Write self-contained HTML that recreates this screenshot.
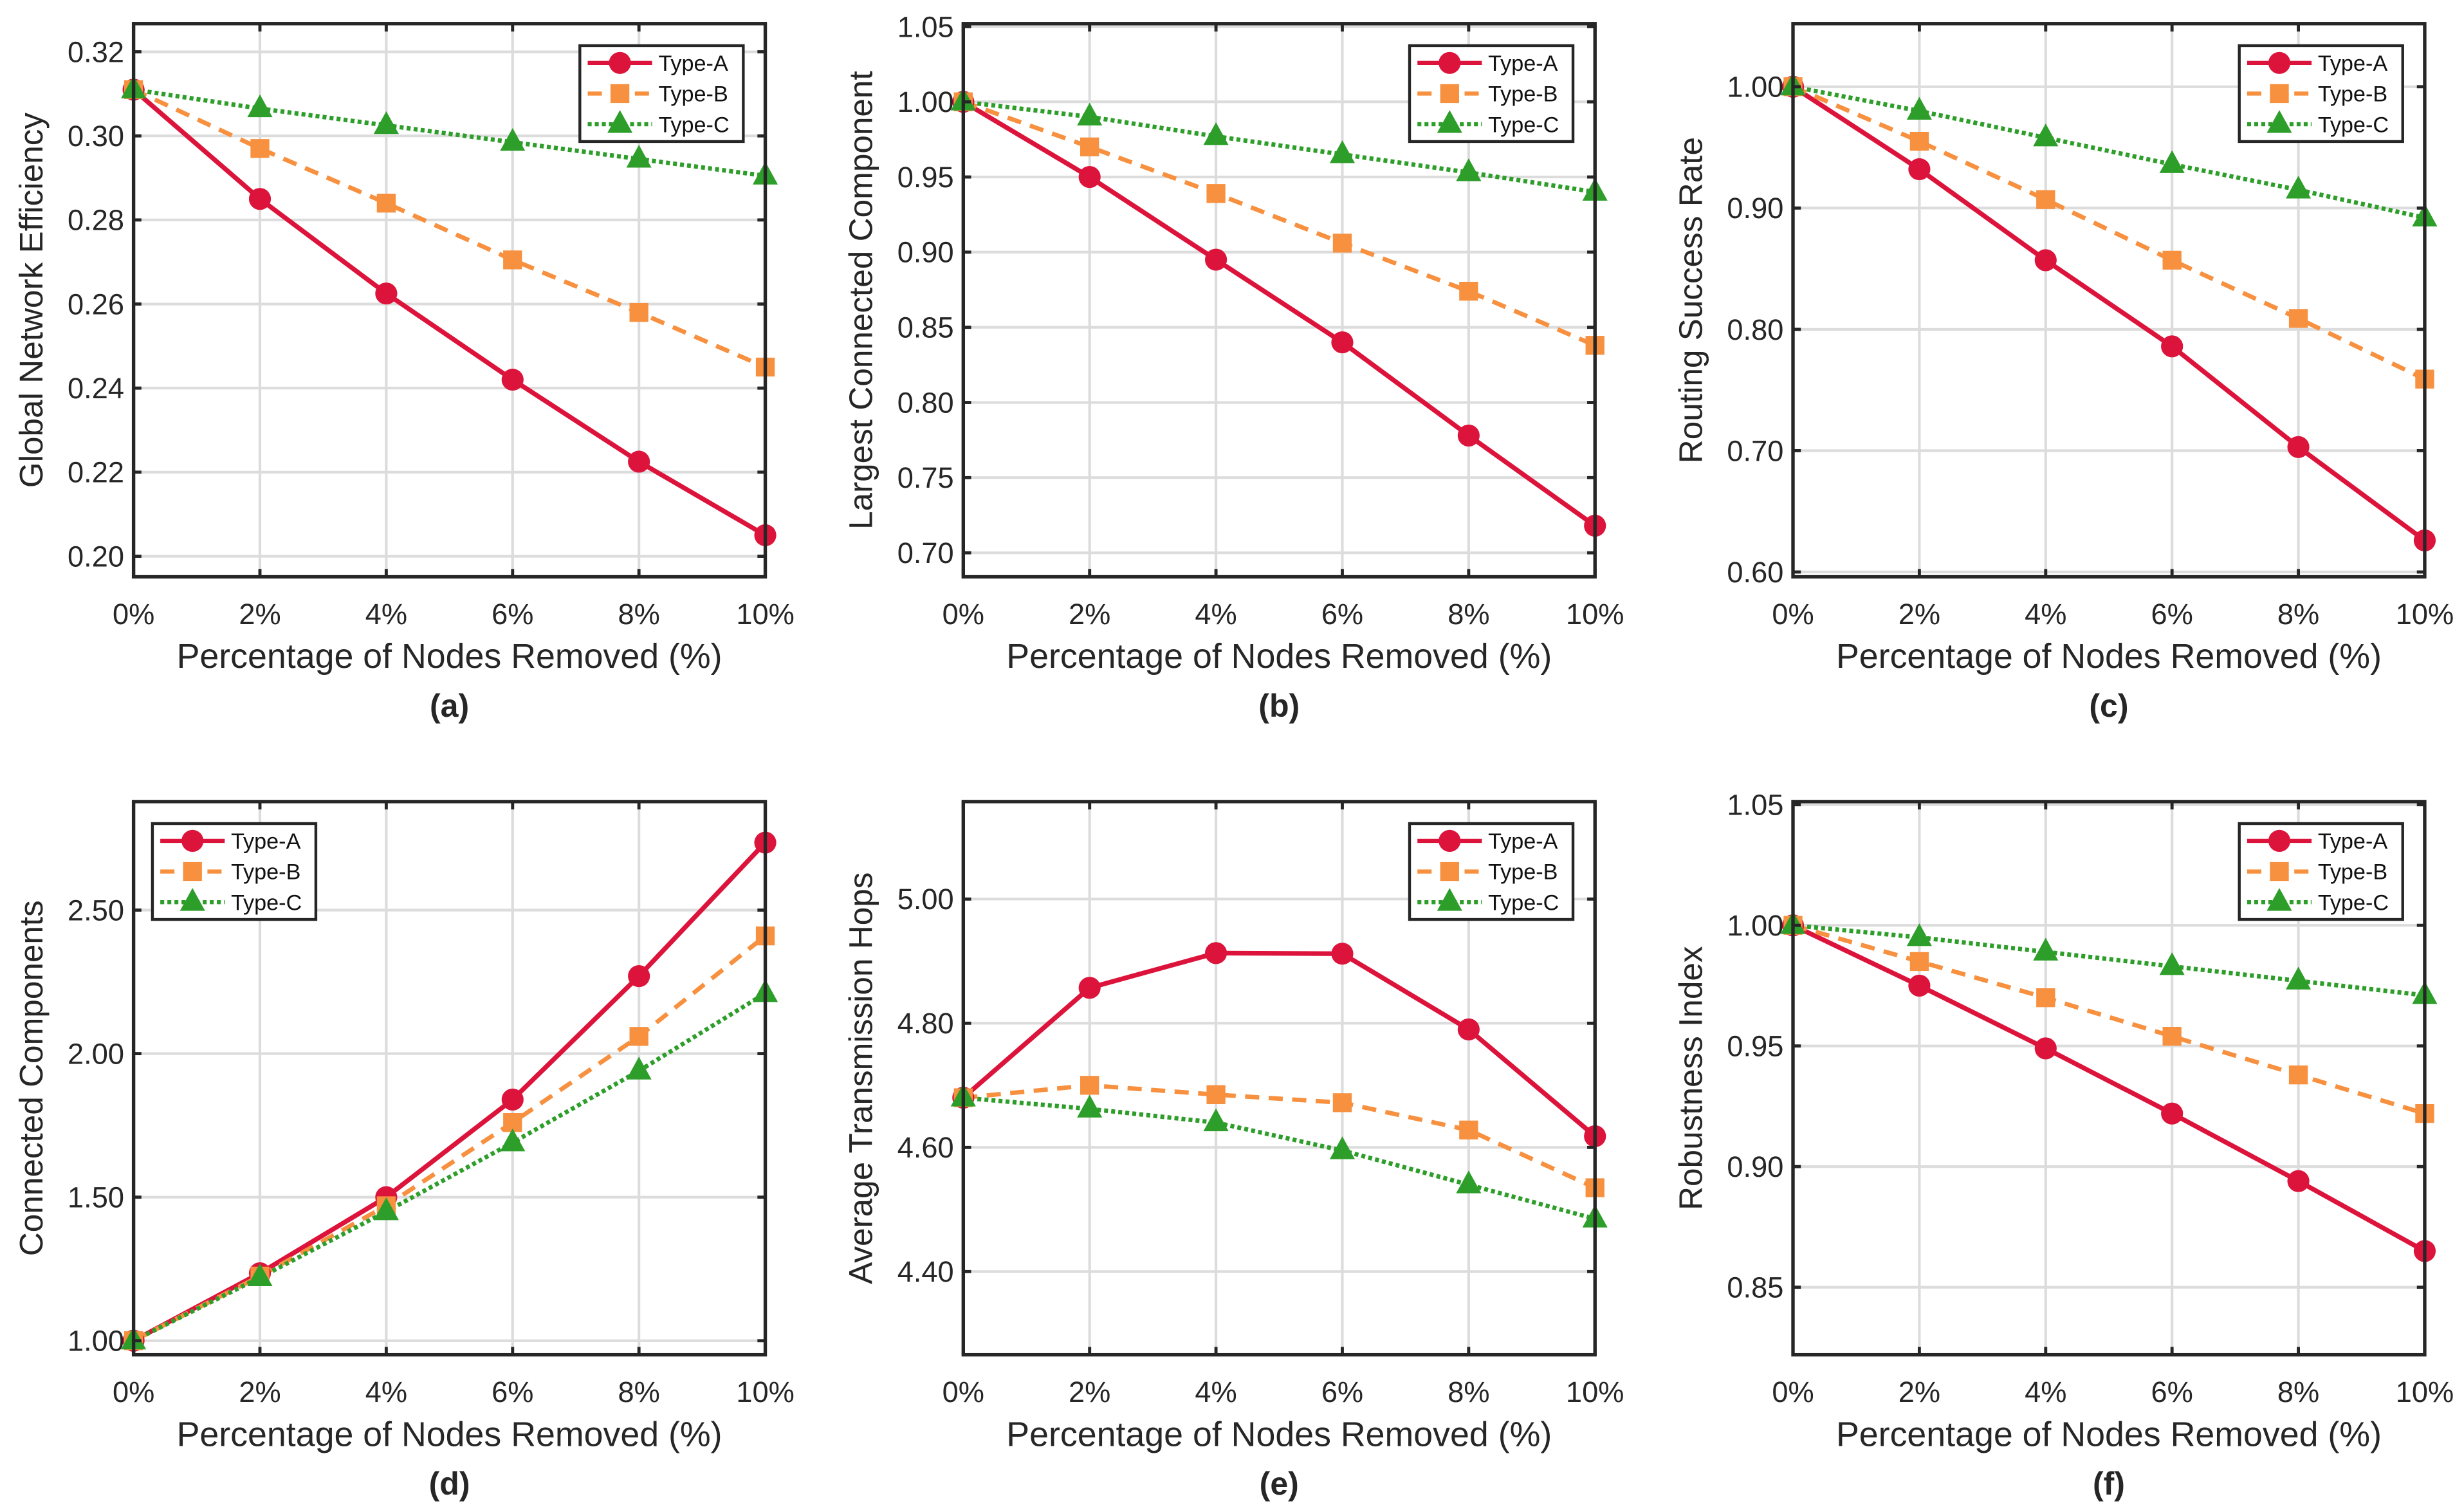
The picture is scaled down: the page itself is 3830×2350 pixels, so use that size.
<!DOCTYPE html>
<html><head><meta charset="utf-8"><style>
html,body{margin:0;padding:0;background:#fff;}
svg{display:block;font-family:"Liberation Sans",sans-serif;}
</style></head><body>
<svg id="fig" width="3830" height="2350" viewBox="0 0 1568 962" xmlns="http://www.w3.org/2000/svg"></svg>
<script>
const categories = ["0%","2%","4%","6%","8%","10%"];
const aA=[0.311,0.285,0.2625,0.242,0.2225,0.205], aB=[0.311,0.297,0.284,0.2705,0.258,0.245], aC=[0.311,0.3065,0.3025,0.2985,0.2945,0.2905];
const aTicks=[0.20,0.22,0.24,0.26,0.28,0.30,0.32];
const bA=[1.0,0.95,0.895,0.84,0.778,0.718], bB=[1.0,0.97,0.939,0.906,0.874,0.838], bC=[1.0,0.99,0.977,0.965,0.953,0.940];
const bTicks=[0.70,0.75,0.80,0.85,0.90,0.95,1.00,1.05];
const cA=[1.0,0.932,0.857,0.786,0.703,0.626], cB=[1.0,0.955,0.907,0.857,0.809,0.759], cC=[1.0,0.98,0.958,0.936,0.915,0.892];
const cTicks=[0.60,0.70,0.80,0.90,1.00];
const dA=[1.0,1.235,1.5,1.84,2.27,2.735], dB=[1.0,1.225,1.47,1.76,2.06,2.41], dC=[1.0,1.22,1.45,1.69,1.94,2.21];
const dTicks=[1.00,1.50,2.00,2.50];
const eA=[4.68,4.857,4.913,4.912,4.79,4.618], eB=[4.68,4.70,4.685,4.672,4.628,4.535], eC=[4.68,4.662,4.64,4.595,4.54,4.485];
const eTicks=[4.40,4.60,4.80,5.00];
const fA=[1.0,0.975,0.949,0.922,0.894,0.865], fB=[1.0,0.985,0.97,0.954,0.938,0.922], fC=[1.0,0.995,0.989,0.983,0.977,0.971];
const fTicks=[0.85,0.90,0.95,1.00,1.05];
const seriesNames=["Type-A","Type-B","Type-C"];

const NS="http://www.w3.org/2000/svg";
const svg=document.getElementById('fig');
function mk(tag,attrs,parent){const e=document.createElementNS(NS,tag);for(const k in attrs)e.setAttribute(k,attrs[k]);(parent||svg).appendChild(e);return e;}
const COL=["#dc143c","#f7903f","#2e9e2a"];
const DASH=["none","9,6","2.5,2"];

const panels=[
 {id:"a",x0:85,x1:487,y0:15,y1:367,min:0.1951,max:0.3267,ticks:aTicks,dec:2,s:[aA,aB,aC],yl:"Global Network Efficiency",leg:"right"},
 {id:"b",x0:613,x1:1015,y0:15,y1:367,min:0.684,max:1.052,ticks:bTicks,dec:2,s:[bA,bB,bC],yl:"Largest Connected Component",leg:"right"},
 {id:"c",x0:1141,x1:1543,y0:15,y1:367,min:0.596,max:1.052,ticks:cTicks,dec:2,s:[cA,cB,cC],yl:"Routing Success Rate",leg:"right"},
 {id:"d",x0:85,x1:487,y0:510,y1:862,min:0.951,max:2.878,ticks:dTicks,dec:2,s:[dA,dB,dC],yl:"Connected Components",leg:"left"},
 {id:"e",x0:613,x1:1015,y0:510,y1:862,min:4.266,max:5.157,ticks:eTicks,dec:2,s:[eA,eB,eC],yl:"Average Transmission Hops",leg:"right"},
 {id:"f",x0:1141,x1:1543,y0:510,y1:862,min:0.822,max:1.0513,ticks:fTicks,dec:2,s:[fA,fB,fC],yl:"Robustness Index",leg:"right"}
];

function marker(g,k,x,y,name){
  let m;
  if(k===0) m=mk('circle',{cx:x,cy:y,r:7,fill:COL[0]},g);
  else if(k===1) m=mk('rect',{x:x-6,y:y-6,width:12,height:12,fill:COL[1]},g);
  else m=mk('polygon',{points:`${x},${y-9} ${x-8},${y+5.5} ${x+8},${y+5.5}`,fill:COL[2]},g);
  
  
  return m;
}

panels.forEach(p=>{
  const g=mk('g',{});
  
  
  const X=i=>p.x0+(p.x1-p.x0)*i/(categories.length-1);
  const Y=v=>p.y1-(v-p.min)/(p.max-p.min)*(p.y1-p.y0);
  categories.forEach((c,i)=>{ if(i>0&&i<categories.length-1) mk('line',{x1:X(i),x2:X(i),y1:p.y0,y2:p.y1,stroke:"#dcdcdc","stroke-width":1.7},g);});
  p.ticks.forEach(t=>{ mk('line',{x1:p.x0,x2:p.x1,y1:Y(t),y2:Y(t),stroke:"#dcdcdc","stroke-width":1.7},g);});
  p.s.forEach((arr,k)=>{
    const pts=arr.map((v,i)=>X(i)+","+Y(v)).join(" ");
    const l=mk('polyline',{points:pts,fill:"none",stroke:COL[k],"stroke-width":k===0?3:2.8,"stroke-dasharray":DASH[k]},g);
    
    
  });
  p.s.forEach((arr,k)=>{ arr.forEach((v,i)=>marker(g,k,X(i),Y(v),'point-'+p.id+'-'+seriesNames[k].toLowerCase())); });
  const box=mk('rect',{x:p.x0,y:p.y0,width:p.x1-p.x0,height:p.y1-p.y0,fill:"none",stroke:"#262626","stroke-width":2.2},g);
  
  
  categories.forEach((c,i)=>{
    mk('line',{x1:X(i),x2:X(i),y1:p.y1,y2:p.y1-5,stroke:"#262626","stroke-width":2},g);
    mk('line',{x1:X(i),x2:X(i),y1:p.y0,y2:p.y0+5,stroke:"#262626","stroke-width":2},g);
    const t=mk('text',{x:X(i),y:p.y1+30,"font-size":18.5,"text-anchor":"middle",fill:"#262626"},g);
    t.textContent=c;
    
    
  });
  p.ticks.forEach(v=>{
    mk('line',{x1:p.x0,x2:p.x0+5,y1:Y(v),y2:Y(v),stroke:"#262626","stroke-width":2},g);
    mk('line',{x1:p.x1,x2:p.x1-5,y1:Y(v),y2:Y(v),stroke:"#262626","stroke-width":2},g);
    const t=mk('text',{x:p.x0-6,y:Y(v)+6.5,"font-size":18.5,"text-anchor":"end",fill:"#262626"},g);
    t.textContent=v.toFixed(p.dec);
    
    
  });
  const xl=mk('text',{x:(p.x0+p.x1)/2,y:p.y1+58,"font-size":22,"text-anchor":"middle",fill:"#262626"},g);
  xl.textContent="Percentage of Nodes Removed (%)";
  
  
  const cap=mk('text',{x:(p.x0+p.x1)/2,y:p.y1+89,"font-size":20.5,"font-weight":"bold","text-anchor":"middle",fill:"#262626"},g);
  cap.textContent="("+p.id+")";
  
  
  const cy=(p.y0+p.y1)/2, cx=p.x0-58;
  const yl=mk('text',{x:cx,y:cy,"font-size":21,"text-anchor":"middle",fill:"#262626",transform:`rotate(-90 ${cx} ${cy})`},g);
  yl.textContent=p.yl;
  
  
  const lw=104, lh=61;
  const lx=p.leg==="right"?p.x1-lw-14:p.x0+12, ly=p.y0+14;
  const lg=mk('g',{},g);
  
  
  mk('rect',{x:lx,y:ly,width:lw,height:lh,fill:"#fff",stroke:"#262626","stroke-width":1.8},lg);
  seriesNames.forEach((n,k)=>{
    const ry=ly+11+k*19.5;
    const e=mk('g',{},lg);
    
    
    mk('line',{x1:lx+5,x2:lx+46,y1:ry,y2:ry,stroke:COL[k],"stroke-width":2.6,"stroke-dasharray":DASH[k]},e);
    marker(e,k,lx+25.5,ry,'legend-marker');
    const t=mk('text',{x:lx+50,y:ry+5,"font-size":14,fill:"#111"},e);
    t.textContent=n;
  });
});
</script>
</body></html>
